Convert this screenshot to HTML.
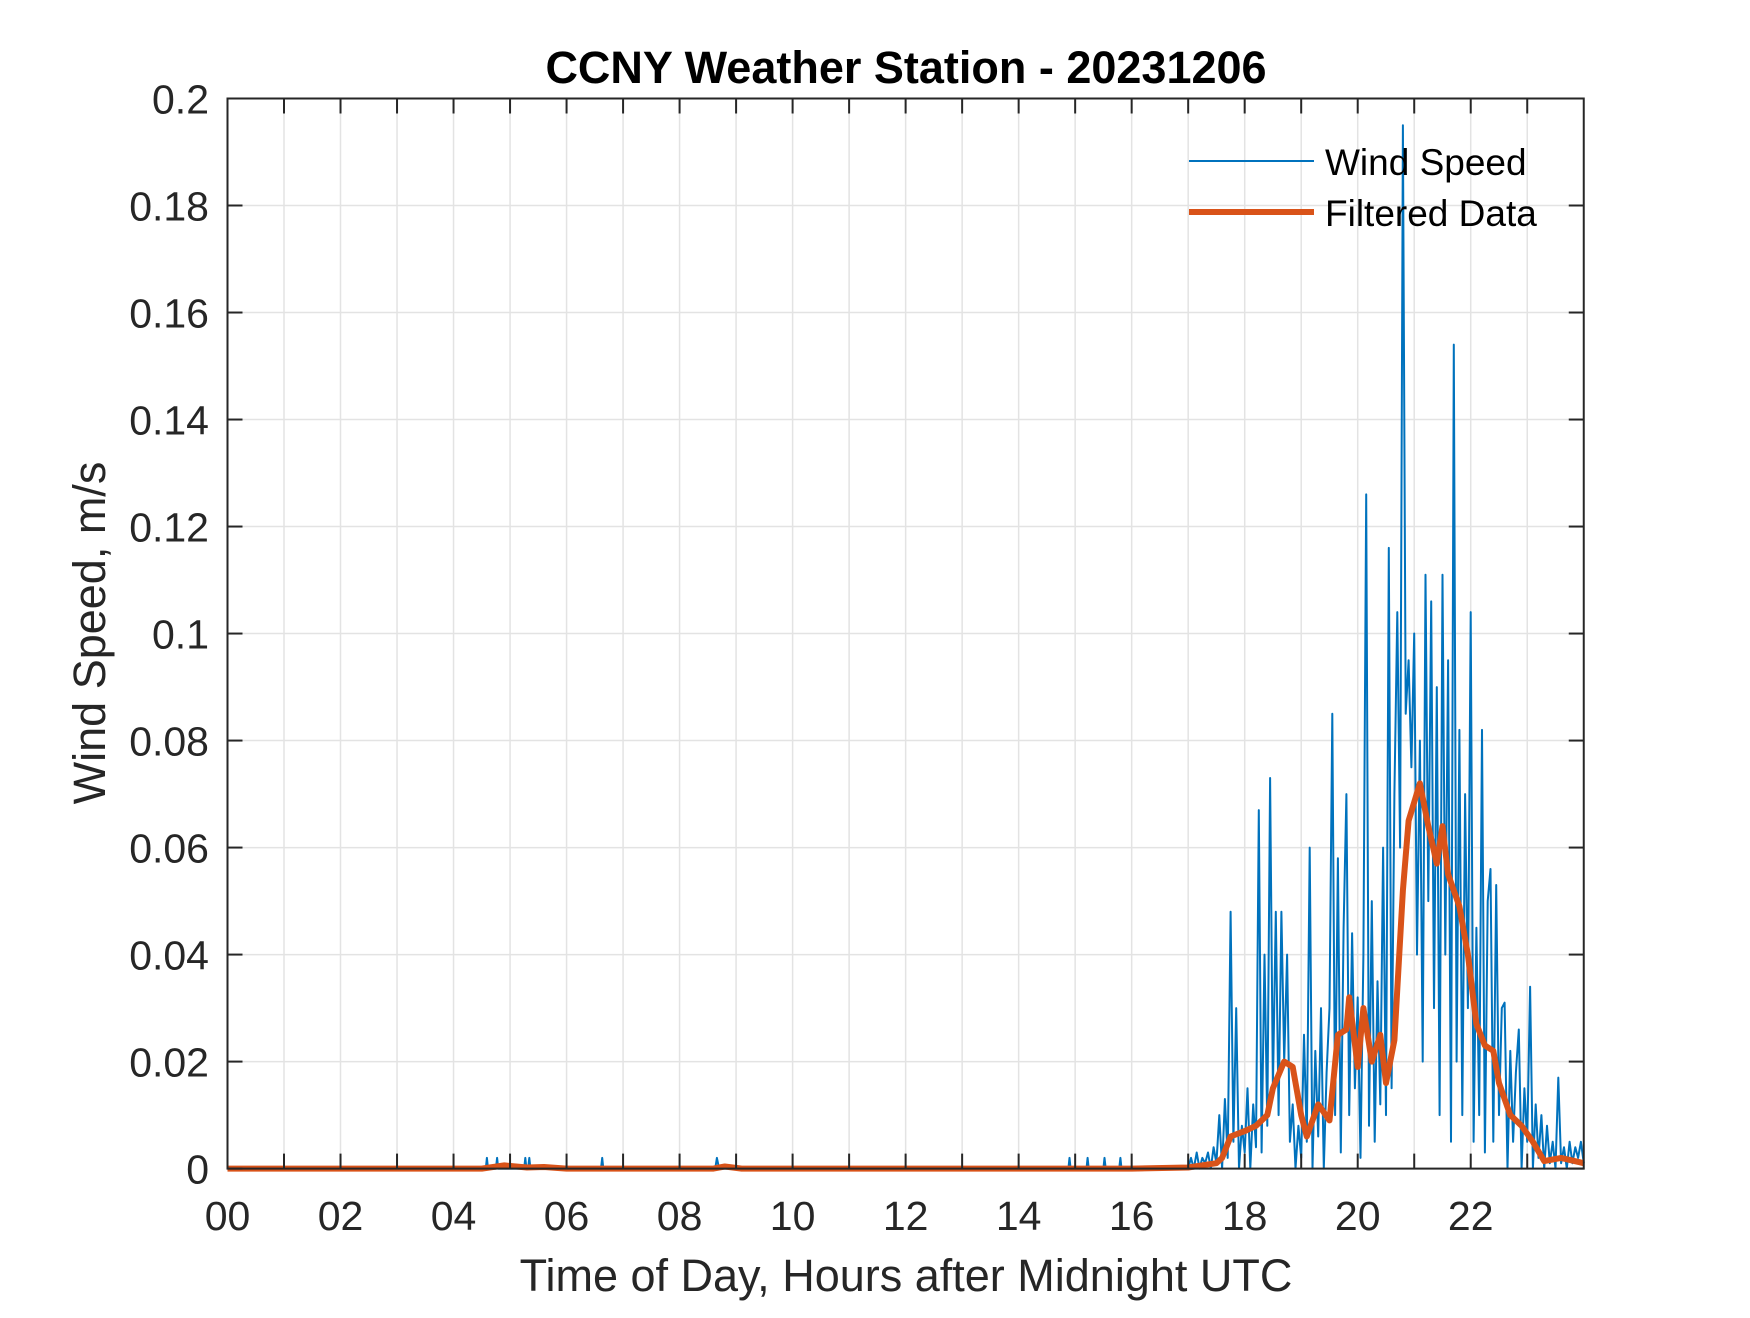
<!DOCTYPE html>
<html><head><meta charset="utf-8"><style>
html,body{margin:0;padding:0;background:#fff;}
svg text{font-family:"Liberation Sans",Arial,sans-serif;fill:#262626;}
</style></head><body>
<svg id="chart" width="1750" height="1313" viewBox="0 0 1750 1313" xmlns="http://www.w3.org/2000/svg">
<rect x="0" y="0" width="1750" height="1313" fill="#fff"/>
<g id="grid"></g>
<g id="series"></g>
<g id="axes"></g>
<text x="906" y="83" text-anchor="middle" font-size="45" font-weight="bold" style="fill:#000">CCNY Weather Station - 20231206</text>
<text x="906" y="1291" text-anchor="middle" font-size="45">Time of Day, Hours after Midnight UTC</text>
<text transform="translate(105,633) rotate(-90)" text-anchor="middle" font-size="45">Wind Speed, m/s</text>
<g>
<line x1="1189" y1="161" x2="1314" y2="161" stroke="#0072BD" stroke-width="2"/>
<text x="1325" y="175" font-size="37" style="fill:#000">Wind Speed</text>
<line x1="1189" y1="212" x2="1314" y2="212" stroke="#D95319" stroke-width="6"/>
<text x="1325" y="226" font-size="37" style="fill:#000">Filtered Data</text>
</g>
</svg>
<script>
const xTickLabels = ["00","02","04","06","08","10","12","14","16","18","20","22"];
const yTickValues = [0,0.02,0.04,0.06,0.08,0.1,0.12,0.14,0.16,0.18,0.2];
const yTickLabels = ["0","0.02","0.04","0.06","0.08","0.1","0.12","0.14","0.16","0.18","0.2"];
const earlyTimes = [0,4.57,4.59,4.61,4.75,4.77,4.79,5.25,5.27,5.29,5.32,5.34,5.36,6.61,6.63,6.65,8.63,8.66,8.70,14.88,14.90,14.92,15.20,15.22,15.24,15.50,15.52,15.54,15.78,15.80,15.82,16.95];
const earlyValues = [0,0,0.002,0,0,0.002,0,0,0.002,0,0,0.002,0,0,0.002,0,0,0.002,0,0,0.002,0,0,0.002,0,0,0.002,0,0,0.002,0,0];
const denseStart = 17.0;
const denseStep = 0.05;
const denseValues = [0,0.002,0,0.003,0,0.002,0.001,0.003,0,0.004,0.001,0.010,0,0.013,0.002,0.048,0.005,0.030,0,0.008,
0.003,0.015,0,0.012,0.004,0.067,0.003,0.040,0.008,0.073,0.015,0.048,0.010,0.048,0.020,0.040,0.005,0.012,0,0.008,
0.002,0.025,0.005,0.060,0,0.022,0.006,0.030,0,0.018,0.030,0.085,0.010,0.058,0.003,0.045,0.070,0.010,0.044,0.015,
0.032,0.002,0.040,0.126,0.008,0.050,0.005,0.035,0.012,0.060,0.010,0.116,0.015,0.070,0.104,0.060,0.195,0.085,0.095,0.075,
0.100,0.040,0.080,0.020,0.111,0.050,0.106,0.030,0.090,0.010,0.111,0.040,0.095,0.005,0.154,0.020,0.082,0.010,0.070,0.030,
0.104,0.005,0.045,0.010,0.082,0.003,0.050,0.056,0.005,0.053,0.010,0.030,0.031,0,0.022,0.005,0.018,0.026,0,0.015,
0.005,0.034,0,0.012,0.002,0.010,0,0.008,0.001,0.005,0,0.017,0.001,0.004,0,0.005,0.001,0.004,0.002,0.005,0.001];
const filtTimes = [0,4.5,4.9,5.3,5.6,6.0,8.6,8.8,9.1,16.0,17.0,17.5,17.6,17.75,18.0,18.2,18.4,18.5,18.7,18.85,19.0,19.1,19.3,19.5,19.65,19.8,19.85,20.0,20.1,20.25,20.4,20.5,20.65,20.8,20.9,21.1,21.25,21.4,21.5,21.6,21.8,21.95,22.1,22.25,22.4,22.5,22.7,22.9,23.1,23.3,23.6,24.0];
const filtValues = [0,0,0.0006,0.0002,0.0003,0,0,0.0004,0,0,0.0002,0.001,0.002,0.006,0.007,0.008,0.010,0.015,0.020,0.019,0.010,0.006,0.012,0.009,0.025,0.026,0.032,0.019,0.030,0.020,0.025,0.016,0.024,0.052,0.065,0.072,0.064,0.057,0.064,0.055,0.049,0.040,0.027,0.023,0.022,0.016,0.010,0.008,0.005,0.0014,0.002,0.001];

const L=227.5,R=1583.75,T=98.5,B=1168.6;
const xMax=24,yMax=0.2;
function xs(h){return L+(R-L)*h/xMax;}
function ys(v){return B-(B-T)*v/yMax;}
const NS="http://www.w3.org/2000/svg";
function mk(tag,parent,attrs){const e=document.createElementNS(NS,tag);for(const k in attrs)e.setAttribute(k,attrs[k]);parent.appendChild(e);return e;}
const grid=document.getElementById('grid'),axes=document.getElementById('axes'),series=document.getElementById('series');
const gridColor="#e3e3e3";
for(let h=0;h<=24;h++){
  const x=xs(h);
  if(h>0&&h<24){const g=mk('line',grid,{x1:x,y1:T,x2:x,y2:B,stroke:gridColor,'stroke-width':1.5});
  
  }
  if(h<24){
  const t1=mk('line',axes,{x1:x,y1:B,x2:x,y2:B-15,stroke:'#262626','stroke-width':2});
  
  
  const t2=mk('line',axes,{x1:x,y1:T,x2:x,y2:T+15,stroke:'#262626','stroke-width':2});
  
  }
}
xTickLabels.forEach((lab,i)=>{
  const t=mk('text',axes,{x:xs(i*2),y:1230,'text-anchor':'middle','font-size':41});
  t.textContent=lab;
  
  
});
yTickValues.forEach((v,i)=>{
  const y=ys(v);
  if(v>0&&v<yMax){const g=mk('line',grid,{x1:L,y1:y,x2:R,y2:y,stroke:gridColor,'stroke-width':1.5});
  
  }
  const t1=mk('line',axes,{x1:L,y1:y,x2:L+15,y2:y,stroke:'#262626','stroke-width':2});
  
  
  const t2=mk('line',axes,{x1:R,y1:y,x2:R-15,y2:y,stroke:'#262626','stroke-width':2});
  
  
  const t=mk('text',axes,{x:209,y:y+15,'text-anchor':'end','font-size':41});
  t.textContent=yTickLabels[i];
  
  
});
const box=mk('rect',axes,{x:L,y:T,width:R-L,height:B-T,fill:'none',stroke:'#262626','stroke-width':2});



let pts=[];
earlyTimes.forEach((t,i)=>pts.push(xs(t).toFixed(1)+','+ys(earlyValues[i]).toFixed(1)));
denseValues.forEach((v,i)=>pts.push(xs(denseStart+denseStep*i).toFixed(1)+','+ys(v).toFixed(1)));
const wind=mk('polyline',series,{points:pts.join(' '),fill:'none',stroke:'#0072BD','stroke-width':2,'stroke-linejoin':'round'});


const fp=filtTimes.map((t,i)=>xs(t).toFixed(1)+','+ys(filtValues[i]).toFixed(1)).join(' ');
const filt=mk('polyline',series,{points:fp,fill:'none',stroke:'#D95319','stroke-width':6,'stroke-linejoin':'round'});


</script>
</body></html>
